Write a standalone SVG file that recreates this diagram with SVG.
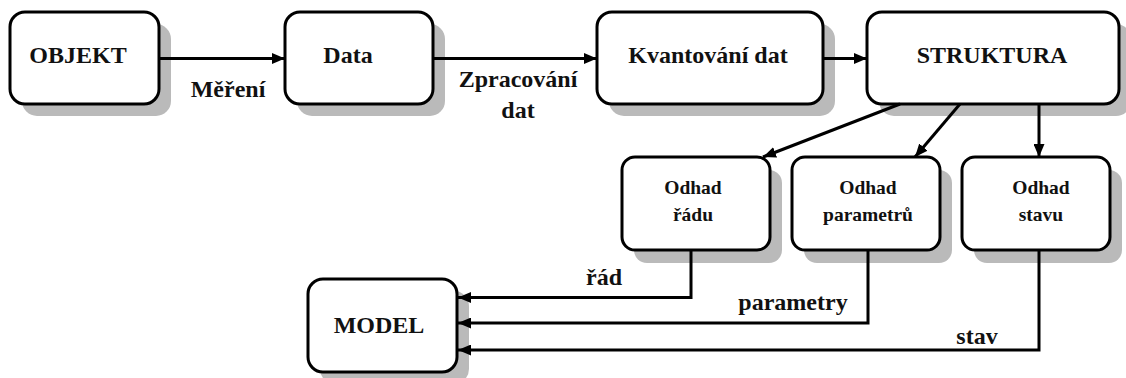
<svg xmlns="http://www.w3.org/2000/svg" width="1126" height="378" viewBox="0 0 1126 378">
<style>
.shadow{fill:#bababa}
.box{fill:#ffffff;stroke:#000000;stroke-width:3}
.t{font-family:'Liberation Serif','Times New Roman',serif;font-weight:bold;font-size:24px;fill:#111;text-anchor:middle}
.s{font-family:'Liberation Serif','Times New Roman',serif;font-weight:bold;font-size:19.5px;fill:#111;text-anchor:middle}
.c{fill:none;stroke:#000;stroke-width:3}
</style>
<defs>
<marker id="arr" markerUnits="userSpaceOnUse" markerWidth="13" markerHeight="11" refX="13" refY="5.5" orient="auto"><path d="M0,0 L13,5.5 L0,11 z" fill="#000"/></marker>
</defs>
<rect width="1126" height="378" fill="#fff"/>
<g id="objekt">
<rect class="shadow" x="22" y="24" width="149" height="92" rx="15"/>
<rect class="box" x="10" y="12" width="149" height="92" rx="15"/>
<text class="t" x="78" y="63">OBJEKT</text>
</g>
<g id="data">
<rect class="shadow" x="297" y="24" width="148" height="92" rx="15"/>
<rect class="box" x="285" y="12" width="148" height="92" rx="15"/>
<text class="t" x="348" y="63">Data</text>
</g>
<g id="kvantovani">
<rect class="shadow" x="609" y="24" width="226" height="92" rx="15"/>
<rect class="box" x="597" y="12" width="226" height="92" rx="15"/>
<text class="t" x="708" y="63">Kvantování dat</text>
</g>
<g id="struktura">
<rect class="shadow" x="879" y="24" width="252" height="92" rx="15"/>
<rect class="box" x="867" y="12" width="252" height="92" rx="15"/>
<text class="t" x="992" y="63">STRUKTURA</text>
</g>
<g id="odhad-radu">
<rect class="shadow" x="634" y="170" width="148" height="93" rx="13"/>
<rect class="box" x="622" y="157" width="148" height="93" rx="13"/>
<text class="s" x="693" y="194">Odhad</text>
<text class="s" x="693" y="221">řádu</text>
</g>
<g id="odhad-parametru">
<rect class="shadow" x="804" y="170" width="148" height="93" rx="13"/>
<rect class="box" x="792" y="157" width="148" height="93" rx="13"/>
<text class="s" x="868" y="194">Odhad</text>
<text class="s" x="868" y="221">parametrů</text>
</g>
<g id="odhad-stavu">
<rect class="shadow" x="974" y="170" width="148" height="93" rx="13"/>
<rect class="box" x="962" y="157" width="148" height="93" rx="13"/>
<text class="s" x="1041" y="194">Odhad</text>
<text class="s" x="1041" y="221">stavu</text>
</g>
<g id="model">
<rect class="shadow" x="320" y="291" width="149" height="93" rx="15"/>
<rect class="box" x="308" y="279" width="149" height="93" rx="15"/>
<text class="t" x="379" y="333">MODEL</text>
</g>
<g id="connectors">
<path class="c" d="M159,58.5 H285" marker-end="url(#arr)"/>
<path class="c" d="M433,58.5 H597" marker-end="url(#arr)"/>
<path class="c" d="M823,58.5 H867" marker-end="url(#arr)"/>
<path class="c" d="M900,104 L763,157" marker-end="url(#arr)"/>
<path class="c" d="M960,104 L915,157" marker-end="url(#arr)"/>
<path class="c" d="M1039,104 V157" marker-end="url(#arr)"/>
<path class="c" d="M691,250 V297.5 H458" marker-end="url(#arr)"/>
<path class="c" d="M868,250 V323 H458" marker-end="url(#arr)"/>
<path class="c" d="M1039,250 V350 H458" marker-end="url(#arr)"/>
<text class="t" x="228" y="97">Měření</text>
<text class="t" x="518" y="87">Zpracování</text>
<text class="t" x="518" y="118">dat</text>
<text class="t" x="604" y="285">řád</text>
<text class="t" x="793" y="310">parametry</text>
<text class="t" x="977" y="344">stav</text>
</g>
</svg>
